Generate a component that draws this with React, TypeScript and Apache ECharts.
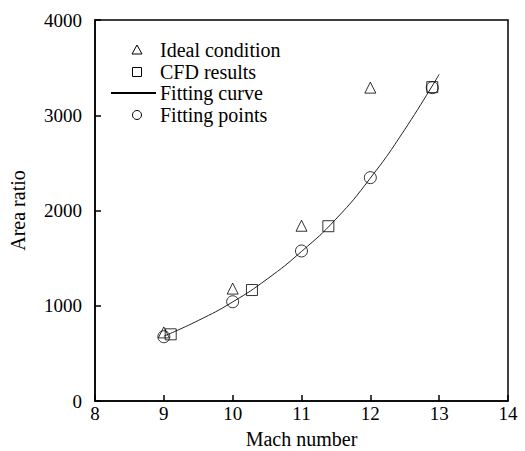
import React, { useEffect, useRef } from "react";
import * as echarts from "echarts";

const idealX = [9, 10, 11, 12];
const idealY = [720, 1180, 1840, 3290];
const cfdX = [9.1, 10.28, 11.39, 12.9];
const cfdY = [700, 1165, 1835, 3295];
const fitPtX = [9, 10, 11, 12, 12.9];
const fitPtY = [675, 1042, 1575, 2345, 3290];
const curveX = [9, 9.5, 10, 10.5, 11, 11.5, 12, 12.5, 13];
const curveY = [680, 845, 1040, 1280, 1570, 1910, 2340, 2850, 3430];
const legendLabels = ["Ideal condition", "CFD results", "Fitting curve", "Fitting points"];
const xTicks = [8, 9, 10, 11, 12, 13, 14];

const FONT = "Liberation Serif";

export default function App() {
  const ref = useRef<HTMLDivElement>(null);
  useEffect(() => {
    const chart = echarts.init(ref.current!, null, { renderer: "svg" });
    const zip = (xs: number[], ys: number[]) => xs.map((x, i) => [x, ys[i]]);
    const markerStyle = { color: "transparent", borderColor: "#000", borderWidth: 1 };
    const lx = 137;
    const tx = 160;
    const rows = [50, 72, 93, 115];
    chart.setOption({
      animation: false,
      backgroundColor: "#fff",
      grid: {
        left: 95,
        right: 17,
        top: 20,
        bottom: 50,
        outerBoundsMode: "none",
        containLabel: false,
        show: true,
        borderColor: "#000",
        borderWidth: 1.5,
        backgroundColor: "transparent",
      },
      xAxis: {
        type: "value",
        min: xTicks[0],
        max: xTicks[xTicks.length - 1],
        interval: 1,
        name: "Mach number",
        nameLocation: "middle",
        nameGap: 28,
        nameTextStyle: { fontFamily: FONT, fontSize: 20, color: "#000", lineHeight: 20 },
        axisLine: { lineStyle: { color: "#000", width: 1.5 } },
        axisTick: { inside: true, length: 6, lineStyle: { color: "#000", width: 1.5 } },
        axisLabel: { fontFamily: FONT, fontSize: 19, color: "#000", margin: 3 },
        splitLine: { show: false },
      },
      yAxis: {
        type: "value",
        min: 0,
        max: 4000,
        interval: 1000,
        name: "Area ratio",
        nameLocation: "middle",
        nameGap: 67,
        nameTextStyle: { fontFamily: FONT, fontSize: 20, color: "#000" },
        axisLine: { lineStyle: { color: "#000", width: 1.5 } },
        axisTick: { inside: true, length: 6, lineStyle: { color: "#000", width: 1.5 } },
        axisLabel: { fontFamily: FONT, fontSize: 19, color: "#000", margin: 13, formatter: (v: number) => String(v) },
        splitLine: { show: false },
      },
      series: [
        {
          name: legendLabels[2],
          type: "line",
          data: zip(curveX, curveY),
          smooth: true,
          showSymbol: false,
          lineStyle: { color: "#222", width: 1 },
          z: 1,
        },
        {
          name: legendLabels[3],
          type: "scatter",
          data: zip(fitPtX, fitPtY),
          symbol: "circle",
          symbolSize: 12,
          itemStyle: markerStyle,
          z: 2,
        },
        {
          name: legendLabels[1],
          type: "scatter",
          data: zip(cfdX, cfdY),
          symbol: "rect",
          symbolSize: 11,
          itemStyle: markerStyle,
          z: 3,
        },
        {
          name: legendLabels[0],
          type: "scatter",
          data: zip(idealX, idealY),
          symbol: "triangle",
          symbolSize: 11,
          itemStyle: markerStyle,
          z: 4,
        },
      ],
      graphic: [
        { type: "polygon", shape: { points: [[lx, rows[0] - 5], [lx - 5, rows[0] + 4], [lx + 5, rows[0] + 4]] }, style: { fill: "none", stroke: "#000", lineWidth: 1 } },
        { type: "rect", shape: { x: lx - 4.5, y: rows[1] - 4.5, width: 9, height: 9 }, style: { fill: "none", stroke: "#000", lineWidth: 1 } },
        { type: "line", shape: { x1: 111, y1: rows[2], x2: 156, y2: rows[2] }, style: { stroke: "#000", lineWidth: 2 } },
        { type: "circle", shape: { cx: lx, cy: rows[3], r: 4.5 }, style: { fill: "none", stroke: "#000", lineWidth: 1 } },
        ...legendLabels.map((t, i) => ({
          type: "text",
          x: tx,
          y: rows[i],
          style: { text: t, fontFamily: FONT, fontSize: 20, fill: "#000", verticalAlign: "middle" },
        })),
      ],
    });
    return () => chart.dispose();
  }, []);
  return <div ref={ref} style={{ width: 525, height: 451, position: "absolute", left: 0, top: 0 }} />;
}
